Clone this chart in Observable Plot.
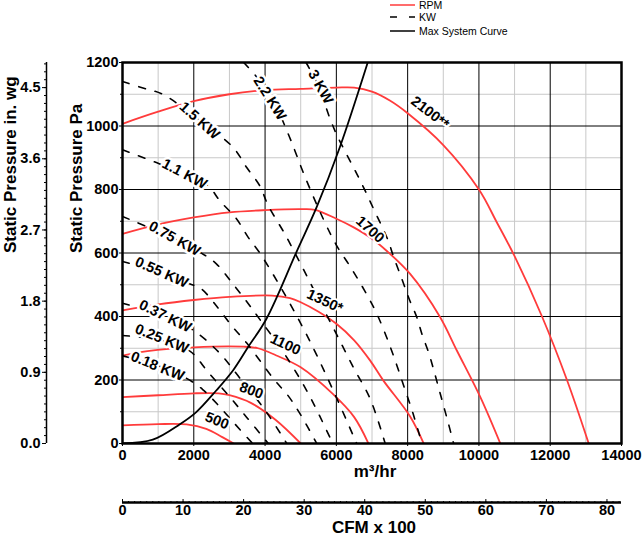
<!DOCTYPE html>
<html>
<head>
<meta charset="utf-8">
<script src="https://cdn.jsdelivr.net/npm/d3@7"></script>
<script src="https://cdn.jsdelivr.net/npm/@observablehq/plot@0.6"></script>
<style>
html,body{margin:0;padding:0;background:#fff;}
#chart{position:relative;width:643px;height:536px;font-family:"Liberation Sans",Arial,sans-serif;}
#legend{position:absolute;left:0;top:0;width:643px;height:40px;}
.lg{position:absolute;left:390px;height:12px;display:flex;align-items:center;font-size:10.5px;line-height:12px;color:#000;white-space:nowrap;}
.lg svg{margin-right:3px;display:block;}
.lg.r1{top:-1px;} .lg.r2{top:11px;} .lg.r3{top:25px;}
</style>
</head>
<body>
<div id="chart"><div id="legend"></div></div>
<script>
// ---------- tick values ----------
const xTicks = [0, 2000, 4000, 6000, 8000, 10000, 12000, 14000];
const xMinor = [1000, 3000, 5000, 7000, 9000, 11000, 13000];
const yTicks = [0, 200, 400, 600, 800, 1000, 1200];
const yMinor = [100, 300, 500, 700, 900, 1100];
const inwgTicks = [0.0, 0.9, 1.8, 2.7, 3.6, 4.5];
const cfmTicks = [0, 10, 20, 30, 40, 50, 60, 70, 80];
const PA_PER_INWG = 249.089;
const M3H_PER_CFM100 = 169.901;

// ---------- RPM curves [m3/hr, Pa] ----------
const rpmNames = ["500", "800", "1100", "1350", "1700", "2100"];
const rpm500 = [[0,57],[1000,61],[1800,60],[2350,46],[2800,20],[3120,0]];
const rpm800 = [[0,146],[1000,152],[2000,158],[2700,158],[3000,152],[3600,128],[4300,74],[5000,0]];
const rpm1100 = [[0,277],[700,291],[2000,303],[3400,305],[3800,300],[4300,278],[5000,240],[5900,156],[6500,83],[6900,0]];
const rpm1350 = [[0,419],[1000,438],[2000,452],[3000,462],[4200,466],[4700,458],[5000,445],[5500,415],[6000,377],[6500,325],[6950,261],[7320,198],[8070,85],[8450,0]];
const rpm1700 = [[0,660],[1000,690],[2000,712],[3000,728],[4000,735],[5000,738],[5400,736],[6000,708],[6500,680],[7000,645],[7400,608],[8070,534],[8900,400],[9380,293],[10040,146],[10600,0]];
const rpm2100 = [[0,1007],[1000,1045],[2000,1078],[3000,1100],[4000,1113],[5000,1117],[6000,1121],[6500,1121],[7000,1108],[7500,1080],[8000,1040],[9000,940],[10000,800],[10500,697],[11000,590],[11770,400],[12470,200],[13080,0]];
const rpmSeries = [rpm500, rpm800, rpm1100, rpm1350, rpm1700, rpm2100];

// ---------- KW curves [m3/hr, Pa] ----------
const kwNames = ["0.18 KW", "0.25 KW", "0.37 KW", "0.55 KW", "0.75 KW", "1.1 KW", "1.5 KW", "2.2 KW", "3 KW"];
const kw018 = [[0,276],[1000,245],[1800,205],[2250,170],[2650,125],[3150,62],[3650,0]];
const kw025 = [[0,340],[1100,325],[1900,290],[2400,225],[3000,148],[3480,83],[4090,0]];
const kw037 = [[0,442],[1200,401],[1930,361],[2680,290],[3300,205],[4000,105],[4610,0]];
const kw055 = [[0,573],[1100,539],[1880,503],[2210,487],[2700,424],[3070,370],[3480,317],[4250,202],[4650,150],[5000,90],[5450,0]];
const kw075 = [[0,715],[1460,645],[2165,603],[2634,566],[3073,506],[3478,448],[3852,391],[4500,290],[5200,160],[5900,0]];
const kw11 = [[0,925],[1740,849],[2400,812],[2727,765],[3196,708],[3523,650],[3852,600],[4500,480],[5200,335],[5900,170],[6570,0]];
const kw15 = [[0,1140],[620,1118],[1125,1100],[2165,1017],[3100,933],[3480,870],[3850,812],[4086,750],[4554,660],[5000,565],[5500,455],[6000,345],[6500,235],[6944,142],[7370,0]];
const kw22 = [[3400,1200],[3800,1150],[4180,1091],[4650,975],[5120,840],[5630,708],[6000,625],[6400,555],[6800,480],[7150,405],[7550,293],[7880,185],[8150,95],[8400,0]];
const kw3 = [[5150,1200],[5500,1125],[5800,1030],[6000,975],[6300,908],[6570,850],[6800,798],[7040,740],[7440,643],[7600,590],[7835,519],[8040,456],[8256,398],[8400,345],[8584,288],[8724,235],[8865,177],[9005,120],[9146,62],[9290,0]];
const kwSeries = [kw018, kw025, kw037, kw055, kw075, kw11, kw15, kw22, kw3];

// ---------- Max system curve ----------
const systemCurve = [[0,0],[850,12],[1600,60],[2070,99],[2630,167],[3100,230],[3520,303],[4040,393],[4880,603],[5450,745],[6100,934],[6880,1200]];

// ---------- labels (anchored in data units) ----------
const kwLabelX = [984, 1105, 1200, 1100, 1462, 1743, 2165, 4133, 5558];
const kwLabelY = [243, 330, 401, 539, 645, 849, 1017, 1087, 1123];
const kwLabelAngle = [22, 22, 26, 24, 29, 28, 42, 58, 61];
const rpmLabels = ["500", "800", "1100", "1350*", "1700", "2100**"];
const rpmLabelX = [2652, 3617, 4573, 5679, 6944, 8630];
const rpmLabelY = [72, 167, 312, 448, 674, 1042];
const rpmLabelAngle = [22, 20, 25, 25, 42, 38];

const RED = "#ff3b3b";
const FONT = "Liberation Sans, Arial, Helvetica, sans-serif";

const toRows = (series, names) => series.flatMap((pts, i) => pts.map(([x, y]) => ({x, y, s: names[i]})));
const rpmRows = toRows(rpmSeries, rpmNames);
const kwRows = toRows(kwSeries, kwNames);
const sysRows = systemCurve.map(([x, y]) => ({x, y}));
const kwLabelRows = kwNames.map((t, i) => ({x: kwLabelX[i], y: kwLabelY[i], t, a: kwLabelAngle[i]}));
const rpmLabelRows = rpmLabels.map((t, i) => ({x: rpmLabelX[i], y: rpmLabelY[i], t, a: rpmLabelAngle[i]}));

const inwgMinor = d3.range(0, 49).map(i => i / 10);
const cfmMinor = d3.range(0, 83);
const plain = d => String(d);

const chart = Plot.plot({
  width: 643,
  height: 536,
  marginLeft: 122,
  marginRight: 22,
  marginTop: 62,
  marginBottom: 93,
  style: {fontFamily: FONT, background: "white", color: "black", overflow: "visible"},
  x: {domain: [0, 14000], label: null},
  y: {domain: [0, 1200], label: null},
  marks: [
    Plot.gridX({ticks: xMinor, stroke: "#c8c8c8", strokeOpacity: 1, strokeWidth: 1}),
    Plot.gridY({ticks: yMinor, stroke: "#c8c8c8", strokeOpacity: 1, strokeWidth: 1}),
    Plot.gridX({ticks: xTicks, stroke: "#000", strokeOpacity: 1, strokeWidth: 1}),
    Plot.gridY({ticks: yTicks, stroke: "#000", strokeOpacity: 1, strokeWidth: 1}),
    Plot.line(rpmRows, {x: "x", y: "y", z: "s", stroke: RED, strokeWidth: 1.8, curve: "catmull-rom", clip: true}),
    Plot.line(kwRows, {x: "x", y: "y", z: "s", stroke: "#000", strokeWidth: 1.6, strokeDasharray: "7,10", curve: "catmull-rom", clip: true}),
    Plot.line(sysRows, {x: "x", y: "y", stroke: "#000", strokeWidth: 1.8, curve: "catmull-rom", clip: true}),
    // labels with white backing
    Plot.text(kwLabelRows, {x: "x", y: "y", text: "t", rotate: "a", fontSize: 14.5, fontWeight: "bold", fill: "white", stroke: "white", strokeWidth: 5}),
    Plot.text(kwLabelRows, {x: "x", y: "y", text: "t", rotate: "a", fontSize: 14.5, fontWeight: "bold", fill: "#000"}),
    Plot.text(rpmLabelRows, {x: "x", y: "y", text: "t", rotate: "a", fontSize: 14.5, fontWeight: "bold", fill: "white", stroke: "white", strokeWidth: 4}),
    Plot.text(rpmLabelRows, {x: "x", y: "y", text: "t", rotate: "a", fontSize: 14.5, fontWeight: "bold", fill: "#000"}),
    Plot.frame({stroke: "#000", strokeWidth: 2.5}),
    // main axes
    Plot.axisX({ticks: xTicks, tickFormat: plain, tickSize: 3, tickPadding: 3, fontSize: 14.5, fontWeight: "bold", label: null}),
    Plot.axisY({ticks: yTicks, tickFormat: plain, tickSize: 3, tickPadding: 1, fontSize: 14.5, fontWeight: "bold", label: null}),
    Plot.axisY({ticks: yMinor, tickSize: 2, tickFormat: () => "", label: null}),
    // secondary in. wg axis
    Plot.ruleX([0], {dx: -76, stroke: "#000", strokeWidth: 1.5}),
    Plot.axisY({ticks: inwgTicks.map(v => v * PA_PER_INWG), tickFormat: d => (d / PA_PER_INWG).toFixed(1), dx: -76, tickSize: 4, tickPadding: 2, fontSize: 14.5, fontWeight: "bold", label: null}),
    Plot.axisY({ticks: inwgMinor.map(v => v * PA_PER_INWG), tickFormat: () => "", dx: -76, tickSize: 2, label: null}),
    // secondary CFM axis
    Plot.ruleY([0], {dy: 59, stroke: "#000", strokeWidth: 2.5}),
    Plot.axisX({ticks: cfmTicks.map(v => v * M3H_PER_CFM100), tickFormat: d => String(Math.round(d / M3H_PER_CFM100)), dy: 59, tickSize: 0, tickPadding: 2, fontSize: 14.5, fontWeight: "bold", label: null}),
    Plot.axisX({anchor: "top", ticks: cfmTicks.map(v => v * M3H_PER_CFM100), tickFormat: () => "", dy: 440, tickSize: 4, label: null}),
    Plot.axisX({anchor: "top", ticks: cfmMinor.map(v => v * M3H_PER_CFM100), tickFormat: () => "", dy: 440, tickSize: 2, label: null}),
    // axis titles
    Plot.text(["Static Pressure Pa"], {frameAnchor: "left", dx: -46, rotate: -90, fontSize: 17, fontWeight: "bold", lineAnchor: "middle"}),
    Plot.text(["Static Pressure in. wg"], {frameAnchor: "left", dx: -112, rotate: -90, fontSize: 17, fontWeight: "bold", lineAnchor: "middle"}),
    Plot.text(["m³/hr"], {frameAnchor: "bottom", dx: 3, dy: 28, fontSize: 17, fontWeight: "bold", lineAnchor: "middle"}),
    Plot.text(["CFM x 100"], {frameAnchor: "bottom", dx: 2, dy: 84, fontSize: 17, fontWeight: "bold", lineAnchor: "middle"})
  ]
});
document.getElementById("chart").prepend(chart);

// ---------- legend ----------
const legendItems = [
  {name: "RPM", stroke: RED, dash: null, cls: "r1"},
  {name: "KW", stroke: "#000", dash: "7,12", cls: "r2"},
  {name: "Max System Curve", stroke: "#000", dash: null, cls: "r3"}
];
const legend = document.getElementById("legend");
for (const it of legendItems) {
  const row = document.createElement("div");
  row.className = "lg " + it.cls;
  row.innerHTML = `<svg width="26" height="12"><line x1="0" x2="25" y1="6" y2="6" stroke="${it.stroke}" stroke-width="1.5" ${it.dash ? `stroke-dasharray="${it.dash}"` : ""}/></svg><span>${it.name}</span>`;
  legend.appendChild(row);
}
</script>
</body>
</html>
